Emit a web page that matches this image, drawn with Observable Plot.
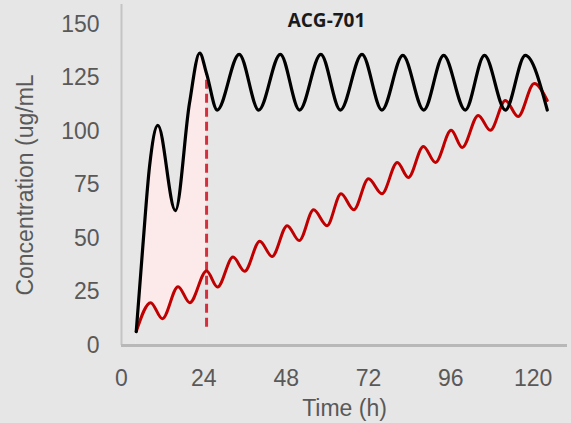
<!DOCTYPE html>
<html><head><meta charset="utf-8">
<script src="https://cdn.jsdelivr.net/npm/d3@7"></script>
<script src="https://cdn.jsdelivr.net/npm/@observablehq/plot@0.6"></script>
<style>
html,body{margin:0;padding:0;background:#e6e6e6;}
#chart svg{display:block;}
</style></head><body><div id="chart"></div>
<script>
const title = "ACG-701";
const xLabel = "Time (h)";
const yLabel = "Concentration (ug/mL";
const xTicks = [0, 24, 48, 72, 96, 120];
const yTicks = [0, 25, 50, 75, 100, 125, 150];

// Black curve: time (h), concentration
const blackTime = [4.3, 6.2, 8.2, 10.6, 15.7, 19.8, 22.8, 24.8, 27.9, 34.3, 40.0, 46.3, 51.9, 58.1, 63.8, 70.1, 75.9, 82.0, 88.1, 93.9, 100.2, 105.8, 111.9, 117.7, 124.1];
const blackConc = [6.5, 46, 84, 102.8, 63, 113, 136.6, 127, 110, 136, 110, 136, 110, 136, 110, 136, 110, 135.5, 110, 135.5, 110, 135.5, 110, 135.5, 110];

// Red curve
const redTime = [4.3, 8.5, 11.9, 16.5, 19.9, 24.8, 28.0, 32.5, 35.9, 40.3, 43.9, 48.3, 51.8, 56.0, 59.9, 64.0, 67.7, 72.0, 75.9, 80.4, 83.6, 88.0, 91.5, 96.1, 99.3, 104.0, 107.5, 111.9, 115.6, 120.3, 124.1];
const redConc = [6.5, 20, 12.5, 27.5, 20, 34.8, 27.3, 41.3, 34.7, 48.7, 41.6, 56, 49, 63.4, 56, 70.9, 63.4, 77.9, 70.9, 85.5, 78.5, 93, 85.5, 100.5, 92.5, 107.5, 100.5, 114.5, 107, 122.4, 114.5];

// Shaded window end and dashed marker
const shadeEnd = 24.8;
const dashTime = [24.8];
const dashLow = [8.5];
const dashHigh = [127];

const black = blackTime.map((t, i) => ({t, v: blackConc[i]}));
const red = redTime.map((t, i) => ({t, v: redConc[i]}));
const dash = dashTime.map((t, i) => ({t, lo: dashLow[i], hi: dashHigh[i]}));
const bg = "#e6e6e6";

const chart = Plot.plot({
  width: 571,
  height: 423,
  marginLeft: 121,
  marginRight: 4,
  marginTop: 4,
  marginBottom: 78,
  style: {background: "transparent", fontFamily: "'Liberation Sans', Arial, sans-serif", fontSize: "23px", color: "#595959"},
  x: {domain: [0, 130], ticks: xTicks, tickSize: 0, tickPadding: 24, label: null},
  y: {domain: [0, 159.3], ticks: yTicks, tickSize: 0, tickPadding: 22, label: null},
  marks: [
    Plot.areaY(black.filter(d => d.t <= shadeEnd), {x: "t", y: "v", fill: "#fce9ea", curve: "monotone-x"}),
    Plot.areaY(red.filter(d => d.t <= shadeEnd), {x: "t", y: "v", fill: bg, curve: "monotone-x"}),
    Plot.ruleX([0], {stroke: "#c4c4c4", strokeWidth: 2}),
    Plot.ruleY([0], {stroke: "#b8b8b8", strokeWidth: 3}),
    Plot.ruleX(dash, {x: "t", y1: "lo", y2: "hi", stroke: "#d52f3e", strokeWidth: 3, strokeDasharray: "9,5"}),
    Plot.line(red, {x: "t", y: "v", stroke: "#c00000", strokeWidth: 3, curve: "monotone-x"}),
    Plot.line(black, {x: "t", y: "v", stroke: "#000000", strokeWidth: 3.2, curve: "monotone-x"}),
    Plot.text([title], {frameAnchor: "top", lineAnchor: "middle", textAnchor: "middle", dx: -18, dy: 16, fontFamily: "'Open Sans', sans-serif", fontWeight: "bold", fontSize: 19, fill: "#1a1a1a"}),
    Plot.text([xLabel], {frameAnchor: "bottom", lineAnchor: "middle", textAnchor: "middle", dy: 63, fontSize: 23, fill: "#595959"}),
    Plot.text([yLabel], {frameAnchor: "left", lineAnchor: "middle", textAnchor: "middle", rotate: -90, dx: -96, dy: 10, fontSize: 23, fill: "#595959"})
  ]
});
document.getElementById("chart").appendChild(chart);
</script>
</body></html>
